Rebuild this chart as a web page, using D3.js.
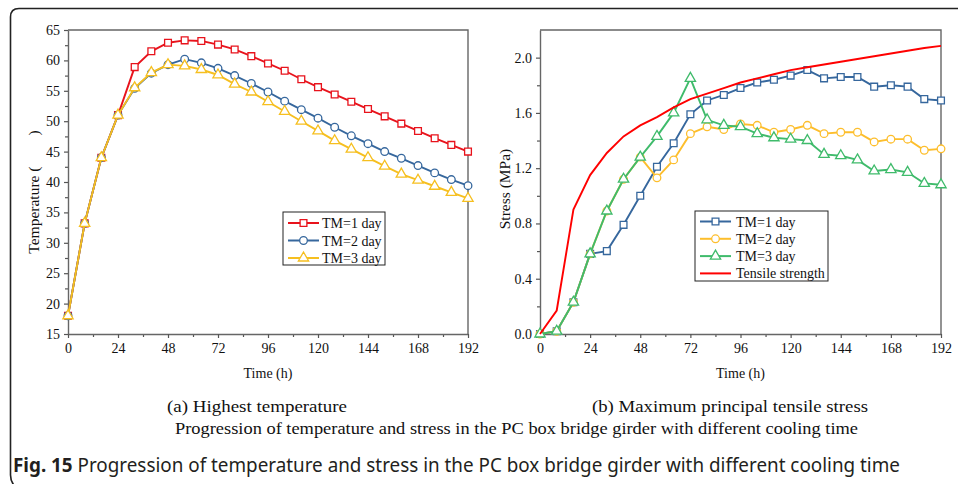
<!DOCTYPE html>
<html>
<head>
<meta charset="utf-8">
<script src="https://cdn.jsdelivr.net/npm/d3@7/dist/d3.min.js"></script>
<style>
    body { margin: 0; background: #fff; }
    svg text { font-family: "Liberation Serif", "Times New Roman", serif; fill: #111; }
</style>
</head>
<body>
<div id="chart"></div>
<script>

// time axis (h)
const hours = [0, 8, 16, 24, 32, 40, 48, 56, 64, 72, 80, 88, 96, 104, 112, 120, 128, 136, 144, 152, 160, 168, 176, 184, 192];
const timeTicks = [0, 24, 48, 72, 96, 120, 144, 168, 192];

// (a) highest temperature
const tempTM1 = [18, 33.2, 44, 51, 58.9, 61.5, 62.9, 63.3, 63.2, 62.6, 61.8, 60.7, 59.5, 58.3, 56.9, 55.6, 54.4, 53.2, 52.0, 50.8, 49.6, 48.4, 47.2, 46.1, 45.0];
const tempTM2 = [18, 33.2, 44, 51, 55.4, 57.9, 59.3, 60.2, 59.6, 58.7, 57.5, 56.2, 54.8, 53.3, 51.9, 50.5, 49.0, 47.6, 46.3, 45.0, 43.9, 42.7, 41.5, 40.4, 39.4];
const tempTM3 = [18, 33.2, 44, 51, 55.5, 58.0, 59.3, 59.1, 58.5, 57.6, 56.1, 54.8, 53.2, 51.6, 50.0, 48.4, 46.8, 45.4, 44.0, 42.6, 41.3, 40.3, 39.3, 38.3, 37.3];
const tempTicks = [15, 20, 25, 30, 35, 40, 45, 50, 55, 60, 65];

// (b) maximum principal tensile stress
const stressTM1 = [0, 0.02, 0.23, 0.58, 0.60, 0.79, 1.00, 1.21, 1.38, 1.59, 1.69, 1.73, 1.78, 1.82, 1.84, 1.87, 1.91, 1.85, 1.86, 1.86, 1.79, 1.80, 1.79, 1.70, 1.69];
const stressTM2 = [0, 0.02, 0.23, 0.58, 0.89, 1.12, 1.28, 1.13, 1.26, 1.45, 1.50, 1.48, 1.52, 1.51, 1.46, 1.48, 1.51, 1.45, 1.46, 1.46, 1.39, 1.41, 1.41, 1.33, 1.34];
const stressTM3 = [0, 0.02, 0.23, 0.58, 0.89, 1.12, 1.28, 1.43, 1.60, 1.85, 1.55, 1.51, 1.50, 1.45, 1.42, 1.41, 1.40, 1.30, 1.29, 1.26, 1.18, 1.19, 1.17, 1.09, 1.08];
const tensileStrength = [0, 0.17, 0.90, 1.15, 1.31, 1.43, 1.51, 1.57, 1.64, 1.70, 1.74, 1.78, 1.82, 1.85, 1.88, 1.91, 1.93, 1.95, 1.97, 1.99, 2.01, 2.03, 2.05, 2.07, 2.085];
const stressTicks = [0, 0.4, 0.8, 1.2, 1.6, 2.0];

const legendTemp = ["TM=1 day", "TM=2 day", "TM=3 day"];
const legendStress = ["TM=1 day", "TM=2 day", "TM=3 day", "Tensile strength"];


class LineChart {
    constructor(svg, config) {
        this.svg = svg;
        this.config = config;
        this.initVis();
    }

    initVis() {
        let vis = this;
        let c = vis.config;

        vis.x = d3.scaleLinear().domain([0, 192]).range([c.left, c.right]);
        vis.y = d3.scaleLinear().domain(c.yDomain).range([c.bottom, c.top]);

        vis.g = vis.svg.append("g");

        // top + right frame of the plot box
        vis.g.append("path")
            .attr("d", `M${c.left},${c.top}H${c.right}V${c.bottom}`)
            .attr("fill", "none")
            .attr("stroke", "#666")
            .attr("stroke-width", 1.4);

        // minor ticks
        vis.g.append("g")
            .attr("transform", `translate(0,${c.bottom})`)
            .call(d3.axisBottom(vis.x).tickValues(d3.range(12, 192, 24)).tickSize(3).tickFormat(""))
            .call(g => g.select(".domain").remove());
        vis.g.append("g")
            .attr("transform", `translate(${c.left},0)`)
            .call(d3.axisLeft(vis.y).tickValues(c.yMinor).tickSize(3).tickFormat(""))
            .call(g => g.select(".domain").remove());

        // main axes
        vis.xAxis = vis.g.append("g")
            .attr("transform", `translate(0,${c.bottom})`)
            .call(d3.axisBottom(vis.x).tickValues(timeTicks).tickSize(4).tickPadding(5).tickSizeOuter(0));
        vis.yAxis = vis.g.append("g")
            .attr("transform", `translate(${c.left},0)`)
            .call(d3.axisLeft(vis.y).tickValues(c.yTicks).tickSize(4).tickPadding(4).tickSizeOuter(0).tickFormat(c.yFormat));

        vis.g.selectAll(".tick line").attr("stroke", "#555").attr("stroke-width", 1.2);
        vis.g.selectAll(".domain").attr("stroke", "#666").attr("stroke-width", 1.4);
        vis.g.selectAll(".tick text")
            .attr("font-family", "Liberation Serif, Times New Roman, serif")
            .attr("font-size", 14)
            .attr("fill", "#111");

        // axis titles
        vis.g.append("text")
            .attr("x", (c.left + c.right) / 2)
            .attr("y", c.bottom + 44)
            .attr("text-anchor", "middle")
            .attr("font-size", 14)
            .text("Time (h)");
        vis.g.append("text")
            .attr("transform", `translate(${c.yTitleX},${c.yTitleY}) rotate(-90)`)
            .attr("text-anchor", "middle")
            .attr("font-size", 15.5)
            .text(c.yTitle);

        // lines + markers
        let line = d3.line()
            .x((d, i) => vis.x(hours[i]))
            .y(d => vis.y(d));

        c.series.forEach(s => {
            vis.g.append("path")
                .datum(s.values)
                .attr("fill", "none")
                .attr("stroke", s.color)
                .attr("stroke-width", 1.9)
                .attr("d", line);

            if (s.symbol) {
                vis.g.append("g")
                    .selectAll("path")
                    .data(s.values)
                    .enter()
                    .append("path")
                    .attr("transform", (d, i) => `translate(${vis.x(hours[i])},${vis.y(d)})`)
                    .attr("d", d3.symbol().type(s.symbol).size(s.size))
                    .attr("fill", "#fff")
                    .attr("stroke", s.color)
                    .attr("stroke-width", 1.3);
            }
        });

        // legend
        let lg = c.legend;
        vis.legend = vis.g.append("g").attr("transform", `translate(${lg.x},${lg.y})`);
        vis.legend.append("rect")
            .attr("width", lg.w)
            .attr("height", lg.h)
            .attr("fill", "#fff")
            .attr("stroke", "#222")
            .attr("stroke-width", 1);

        c.series.forEach((s, i) => {
            let yy = lg.first + i * lg.step;
            vis.legend.append("line")
                .attr("x1", lg.lineX0).attr("x2", lg.lineX1)
                .attr("y1", yy).attr("y2", yy)
                .attr("stroke", s.color)
                .attr("stroke-width", 2);
            if (s.symbol) {
                vis.legend.append("path")
                    .attr("transform", `translate(${(lg.lineX0 + lg.lineX1) / 2},${yy})`)
                    .attr("d", d3.symbol().type(s.symbol).size(s.size))
                    .attr("fill", "#fff")
                    .attr("stroke", s.color)
                    .attr("stroke-width", 1.3);
            }
            vis.legend.append("text")
                .attr("x", lg.textX)
                .attr("y", yy + 5)
                .attr("font-size", 14)
                .text(lg.labels[i]);
        });
    }
}

const svg = d3.select("#chart").append("svg")
    .attr("width", 958)
    .attr("height", 484);

// outer rounded frame
svg.append("path")
    .attr("d", "M970,8.5H19Q10.5,8.5 10.5,17V475Q10.5,484 19,490")
    .attr("fill", "none")
    .attr("stroke", "#222")
    .attr("stroke-width", 1.6);

new LineChart(svg, {
    left: 68, right: 468, top: 30, bottom: 334,
    yDomain: [15, 65],
    yTicks: tempTicks,
    yMinor: d3.range(17.5, 65, 5),
    yFormat: d3.format("d"),
    yTitle: "Temperature (\u2003\u2003)",
    yTitleX: 39,
    yTitleY: 192,
    series: [
        {values: tempTM1, color: "#e8131c", symbol: d3.symbolSquare, size: 46},
        {values: tempTM2, color: "#36679d", symbol: d3.symbolCircle, size: 46},
        {values: tempTM3, color: "#f6bf1f", symbol: d3.symbolTriangle, size: 46}
    ],
    legend: {x: 283, y: 212, w: 102, h: 53, first: 11, step: 17.5, lineX0: 5, lineX1: 36, textX: 39, labels: legendTemp}
});

new LineChart(svg, {
    left: 540, right: 941, top: 30, bottom: 334,
    yDomain: [0, 2.2],
    yTicks: stressTicks,
    yMinor: d3.range(0.2, 2.2, 0.4),
    yFormat: d3.format(".1f"),
    yTitle: "Stress (MPa)",
    yTitleX: 510,
    yTitleY: 189,
    series: [
        {values: stressTM1, color: "#36679d", symbol: d3.symbolSquare, size: 46},
        {values: stressTM2, color: "#fdbe2c", symbol: d3.symbolCircle, size: 46},
        {values: stressTM3, color: "#3fbb6b", symbol: d3.symbolTriangle, size: 46},
        {values: tensileStrength, color: "#ff0000", symbol: null}
    ],
    legend: {x: 695, y: 211, w: 133, h: 70, first: 10.5, step: 17.3, lineX0: 5, lineX1: 36, textX: 41, labels: legendStress}
});

// sub captions
svg.append("text")
    .attr("x", 167).attr("y", 412)
    .attr("font-size", 17)
    .attr("textLength", 180).attr("lengthAdjust", "spacingAndGlyphs")
    .text("(a) Highest temperature");
svg.append("text")
    .attr("x", 592).attr("y", 412)
    .attr("font-size", 17)
    .attr("textLength", 276).attr("lengthAdjust", "spacingAndGlyphs")
    .text("(b) Maximum principal tensile stress");
svg.append("text")
    .attr("x", 175).attr("y", 434)
    .attr("font-size", 17)
    .attr("textLength", 683).attr("lengthAdjust", "spacingAndGlyphs")
    .text("Progression of temperature and stress in the PC box bridge girder with different cooling time");

// figure caption
let cap = svg.append("text")
    .attr("x", 13).attr("y", 472)
    .attr("font-size", 20)
    .attr("textLength", 887).attr("lengthAdjust", "spacingAndGlyphs")
    .style("font-family", "'Noto Sans', 'Open Sans', sans-serif")
    .style("fill", "#231f20");
cap.append("tspan").attr("font-weight", "bold").text("Fig. 15");
cap.append("tspan").text(" Progression of temperature and stress in the PC box bridge girder with different cooling time");

</script>
</body>
</html>
